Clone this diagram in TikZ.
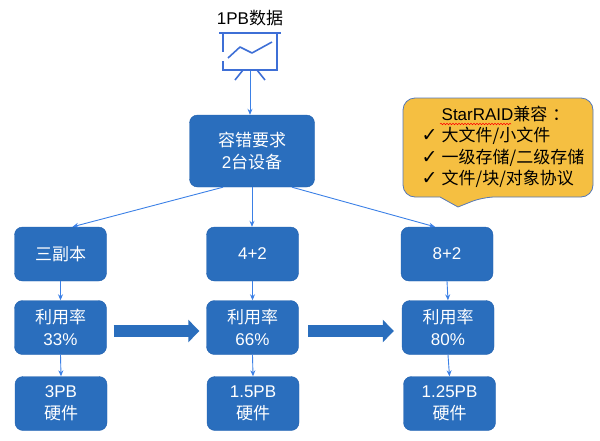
\documentclass[tikz,border=0pt]{standalone}
\usepackage{fontspec}
\setmainfont{Noto Sans CJK SC}
\newfontfamily\symfont{DejaVu Sans}
\newfontfamily\lat{Liberation Sans}
\usetikzlibrary{arrows.meta}
\usetikzlibrary{decorations.pathmorphing}
\definecolor{boxblue}{HTML}{2A6EBD}
\definecolor{boxedge}{HTML}{2160AE}
\definecolor{linkblue}{HTML}{3B80E6}
\definecolor{iconblue}{HTML}{3E6FD6}
\definecolor{noteyellow}{HTML}{F5BF41}
\definecolor{noteedge}{HTML}{5478B8}
\newcommand{\tick}{\makebox[20pt][l]{\symfont\fontsize{19}{19}\selectfont ✓}}
\tikzstyle{stage}=[draw=boxedge, fill=boxblue, text=white, rounded corners=8pt,
                   minimum width=92pt, minimum height=54pt, inner sep=0,
                   align=center, font=\fontsize{17}{21.5}\selectfont]
\tikzstyle{link}=[linkblue, line width=0.9pt, -{Stealth[length=6pt, width=5pt]}]
\tikzstyle{bigarrow}=[boxblue, line width=12pt, -{Triangle[length=11pt, width=22pt]}]
\tikzstyle{note}=[draw=noteedge, fill=noteyellow, line width=0.8pt]
\begin{document}
\begin{tikzpicture}[x=1pt, y=-1pt]
    \useasboundingbox (0,0) rectangle (600,440);
    % data source with its screen icon
    \node[font=\fontsize{17}{20}\selectfont] (data) at (250,18) {{\lat 1PB}数据};
    \begin{scope}[iconblue, line width=1.6pt]
        \draw (219,33) -- (281,33);
        \draw (223,33) -- (223,52) (223,61) -- (223,70) -- (277,70) -- (277,33);
        \draw[line join=round] (228,58) -- (240,47) -- (252,53) -- (272,42);
        \draw (243,70) -- (235,80) (257,70) -- (265,80);
    \end{scope}
    \coordinate (screen) at (250,71);
    \node[stage, minimum width=125pt, minimum height=72pt] (demand) at (252,151) {容错要求\\{\lat 2}台设备};
    % three schemes
    \node[stage] (rep3)   at (60.5,254)  {三副本};
    \node[stage] (ec42)   at (252.5,254) {\lat 4+2};
    \node[stage] (ec82)   at (447,254)   {\lat 8+2};
    \node[stage] (rate33) at (60.5,327.5)  {利用率\\{\lat 33\%}};
    \node[stage] (rate66) at (252.5,327.5) {利用率\\{\lat 66\%}};
    \node[stage] (rate80) at (448,327.5)   {利用率\\{\lat 80\%}};
    \node[stage] (hw3)    at (61,403.5)    {{\lat 3PB}\\硬件};
    \node[stage] (hw15)   at (253,403.5)   {{\lat 1.5PB}\\硬件};
    \node[stage] (hw125)  at (449.5,403.5) {{\lat 1.25PB}\\硬件};
    \draw[link] (screen) -- (screen |- demand.north);
    \draw[link] ([xshift=-29pt]demand.south) -- ([xshift=12pt]rep3.north);
    \draw[link] (demand.south) -- (demand.south |- ec42.north);
    \draw[link] ([xshift=40pt]demand.south) -- ([xshift=-12pt]ec82.north);
    \foreach \from/\to in {rep3/rate33, rate33/hw3, ec42/rate66, rate66/hw15, ec82/rate80, rate80/hw125}
        \draw[link] (\from.south) -- (\to.north);
    \draw[bigarrow] ([shift={(7,3.5)}]rate33.east) -- ([shift={(-7,3.5)}]rate66.west);
    \draw[bigarrow] ([shift={(9.5,3.5)}]rate66.east) -- ([shift={(-8,3.5)}]rate80.west);
    % callout
    \draw[note] (403,150) [rounded corners=12pt] -- (403,98) -- (593,98) -- (593,197) -- (483,197)
        [sharp corners] -- (458,207) -- (440,197) [rounded corners=12pt] -- (403,197) -- cycle;
    \node[align=left, inner sep=0, font=\fontsize{17}{21.5}\selectfont] (compat) at (503,147)
        {\hspace*{20pt}{\lat StarRAID}兼容\hspace{5pt}：\\
         \tick 大文件/小文件\\
         \tick 一级存储/二级存储\\
         \tick 文件/块/对象协议};
    \draw[red, line width=0.5pt, decorate, decoration={snake, amplitude=0.8pt, segment length=3pt}]
        (440,124) -- (511,124);
\end{tikzpicture}
\end{document}
